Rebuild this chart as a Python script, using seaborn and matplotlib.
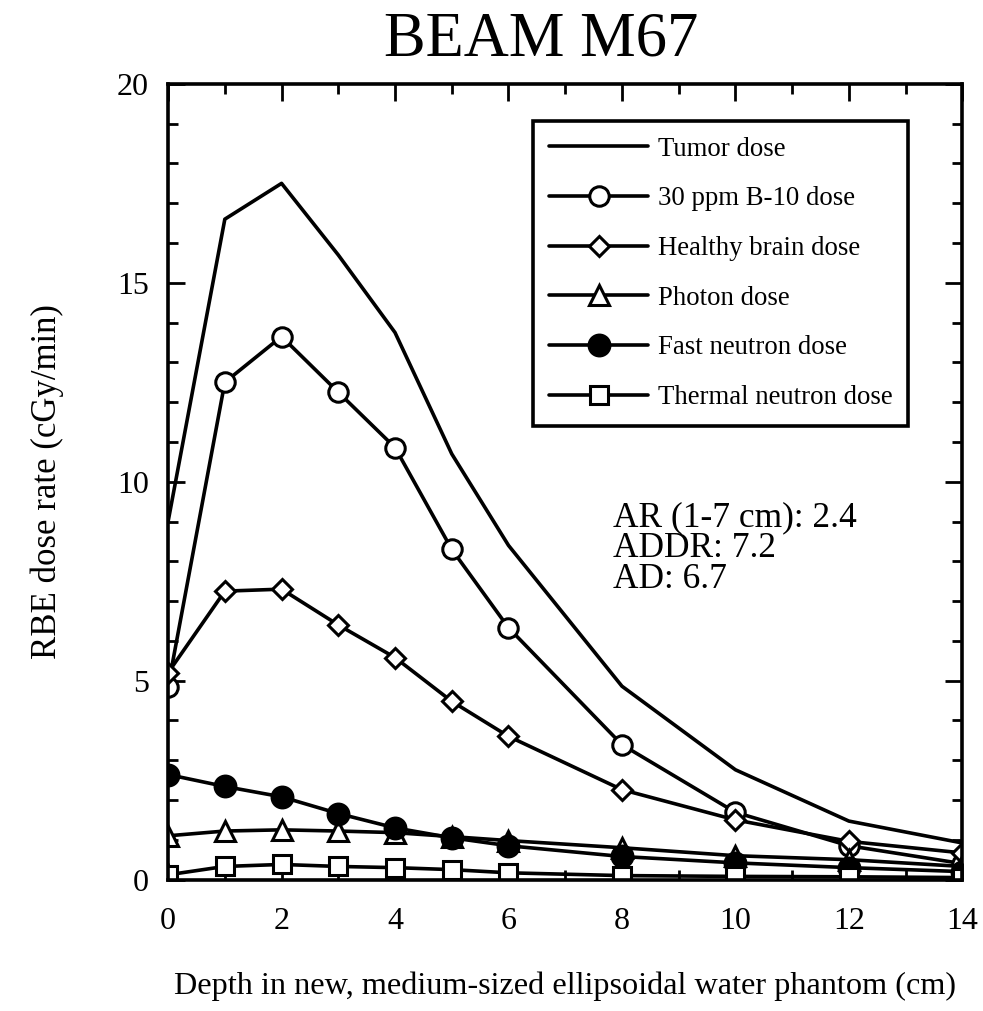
import matplotlib
matplotlib.use("Agg")
import matplotlib.pyplot as plt
import seaborn as sns
import pandas as pd
from matplotlib.ticker import MultipleLocator

sns.set_theme(style="ticks")
plt.rcParams['font.family'] = ['Liberation Serif', 'DejaVu Serif']
for k in ['text.color', 'axes.labelcolor', 'xtick.color', 'ytick.color', 'axes.edgecolor']:
    plt.rcParams[k] = 'black'

depth = [0, 1, 2, 3, 4, 5, 6, 8, 10, 12, 14]
tumor = [9.0, 16.6, 17.5, 15.7, 13.75, 10.7, 8.4, 4.86, 2.76, 1.47, 0.92]
b10 = [4.85, 12.5, 13.65, 12.25, 10.86, 8.3, 6.33, 3.39, 1.69, 0.85, 0.4]
brain = [5.2, 7.25, 7.3, 6.4, 5.58, 4.48, 3.6, 2.26, 1.5, 0.96, 0.67]
photon = [1.1, 1.22, 1.25, 1.22, 1.18, 1.08, 0.98, 0.8, 0.6, 0.5, 0.33]
fast = [2.64, 2.34, 2.08, 1.66, 1.3, 1.05, 0.85, 0.58, 0.42, 0.3, 0.2]
thermal = [0.12, 0.33, 0.38, 0.33, 0.3, 0.25, 0.17, 0.1, 0.08, 0.07, 0.05]

series_names = ["Tumor dose", "30 ppm B-10 dose", "Healthy brain dose",
                "Photon dose", "Fast neutron dose", "Thermal neutron dose"]
series_values = [tumor, b10, brain, photon, fast, thermal]

title = "BEAM M67"
xlabel = "Depth in new, medium-sized ellipsoidal water phantom (cm)"
ylabel = "RBE dose rate (cGy/min)"
note = "AR (1-7 cm): 2.4\nADDR: 7.2\nAD: 6.7"

styles = [
    dict(marker=None),
    dict(marker="o", markersize=14, markerfacecolor="white"),
    dict(marker="D", markersize=10, markerfacecolor="white"),
    dict(marker="^", markersize=14, markerfacecolor="white"),
    dict(marker="o", markersize=15, markerfacecolor="black"),
    dict(marker="s", markersize=13, markerfacecolor="white"),
]

fig = plt.figure(figsize=(9.83, 10.11), dpi=100)
ax = fig.add_axes([0.171, 0.130, 0.808, 0.787])

for name, vals, st in zip(series_names, series_values, styles):
    df = pd.DataFrame({"depth": depth, "dose": vals})
    kw = dict(color="black", linewidth=2.6, label=name)
    if st["marker"] is not None:
        kw.update(marker=st["marker"], markersize=st["markersize"],
                  markerfacecolor=st["markerfacecolor"],
                  markeredgecolor="black", markeredgewidth=2.2)
    sns.lineplot(data=df, x="depth", y="dose", ax=ax, **kw)

ax.set_xlim(0, 14)
ax.set_ylim(0, 20)
ax.xaxis.set_major_locator(MultipleLocator(2))
ax.xaxis.set_minor_locator(MultipleLocator(1))
ax.yaxis.set_major_locator(MultipleLocator(5))
ax.yaxis.set_minor_locator(MultipleLocator(1))
ax.tick_params(which="both", direction="in", top=True, right=True,
               width=2, colors="black", labelsize=23)
ax.tick_params(axis="x", pad=20)
ax.tick_params(axis="y", pad=14)
ax.tick_params(which="major", length=12)
ax.tick_params(which="minor", length=7)
for s in ax.spines.values():
    s.set_linewidth(2.6)
    s.set_color("black")

ax.set_xlabel(xlabel, fontsize=23.2, labelpad=25)
ax.set_ylabel(ylabel, fontsize=25, labelpad=38)
fig.text(541 / 983, 1 - 41 / 1011, title, fontsize=45, ha="center", va="center")

ax.text(7.85, 8.32, note, fontsize=25.5, va="center", ha="left", linespacing=0.93)

leg = ax.legend(loc="upper right", bbox_to_anchor=(0.932, 0.954), fontsize=19.3,
                frameon=True, fancybox=False, handlelength=3.7, borderpad=0.6,
                labelspacing=0.92, handletextpad=0.35, borderaxespad=0)
leg.get_frame().set_edgecolor("black")
leg.get_frame().set_linewidth(2.6)
leg.get_frame().set_alpha(1)

fig.savefig("out.png", dpi=100)
